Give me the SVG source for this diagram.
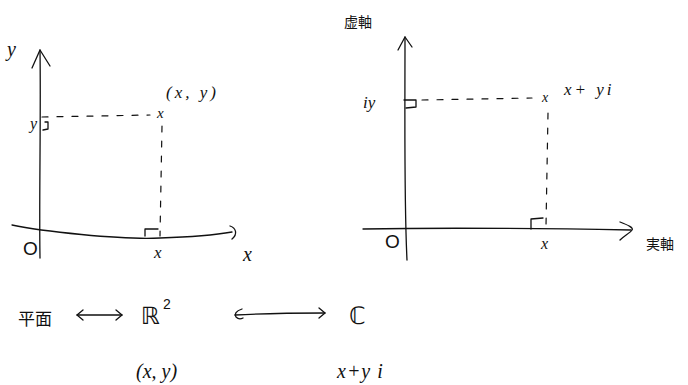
<svg xmlns="http://www.w3.org/2000/svg" width="688" height="385" viewBox="0 0 688 385">
<style>
.l{fill:none;stroke:#111;stroke-width:1.3;stroke-linecap:round;stroke-linejoin:round}
.d{fill:none;stroke:#111;stroke-width:1.2;stroke-dasharray:6 9;stroke-linecap:round}
.t{font-family:"Liberation Serif",serif;font-style:italic;fill:#111}
.r{font-family:"Liberation Sans",sans-serif;fill:#111}
.j{font-family:"Noto Sans CJK JP",sans-serif;fill:#111}
.b{font-family:"DejaVu Sans",sans-serif;fill:#111}
</style>
<rect width="688" height="385" fill="#fff"/>
<g id="plane">
<text class="t" x="7" y="56" font-size="20">y</text>
<text class="t" x="166" y="98" font-size="17" letter-spacing="3">(x, y)</text>
<text class="t" x="157" y="118" font-size="15">x</text>
<text class="t" x="30" y="129" font-size="16">y</text>
<text class="r" x="23" y="255" font-size="19">O</text>
<text class="t" x="154" y="258" font-size="17">x</text>
<text class="t" x="243" y="261" font-size="20">x</text>
<path class="l" d="M45 122 L48 122 L48 129 L43 130"/>
<path class="l" d="M145 236 L145 229 L158 229"/>
</g>
<g id="complex">
<text class="j" x="344" y="27" font-size="14">虚軸</text>
<text class="t" x="363" y="108" font-size="17">iy</text>
<text class="t" x="542" y="102" font-size="14">x</text>
<text class="t" x="564" y="95" font-size="17" letter-spacing="3">x+ yi</text>
<text class="r" x="385" y="248" font-size="19">O</text>
<text class="t" x="541" y="249" font-size="16">x</text>
<text class="j" x="646" y="249" font-size="14">実軸</text>
<path class="l" d="M404 100 L416 100 L416 107 L406 108"/>
<path class="l" d="M531 229 L531 219 L543 218"/>
</g>
<g id="bottom">
<text class="j" x="18" y="325" font-size="17">平面</text>
<text class="b" x="141" y="324" font-size="24">ℝ</text>
<text class="r" x="163" y="309" font-size="14">2</text>
<text class="b" x="349" y="324" font-size="24">ℂ</text>
<text class="t" x="136" y="378" font-size="20">(x, y)</text>
<text class="t" x="337" y="378" font-size="20" letter-spacing="1">x+y i</text>
</g>
<g id="connectors">
<path class="l" d="M40 258 C39 200 41 120 40 50"/>
<path class="l" d="M32 68 L40 50 L50 66"/>
<path class="l" d="M12 225 C40 231 120 240 160 238 C190 237 215 235 232 232"/>
<path class="l" d="M230 226 C236 228 238 234 232 239"/>
<path class="d" d="M42 117 L150 115"/>
<path class="d" d="M162 126 L160 236"/>
<path class="l" d="M407 260 C404 200 405 120 405 37"/>
<path class="l" d="M398 50 L405 37 L412 47"/>
<path class="l" d="M363 229 C420 228 520 228 631 230"/>
<path class="l" d="M620 222 C628 225 634 228 632 230 C630 233 624 236 620 240"/>
<path class="d" d="M422 100 L532 98"/>
<path class="d" d="M548 113 L546 226"/>
<path class="l" d="M77 315 L122 315"/>
<path class="l" d="M83 310 L77 315 L83 320"/>
<path class="l" d="M116 310 L122 315 L116 320"/>
<path class="l" d="M235 315 C270 313 300 313 325 313"/>
<path class="l" d="M242 309 C236 311 234 314 236 317 C238 319 241 319 243 318"/>
<path class="l" d="M319 308 L325 313 L319 318"/>
</g>
</svg>
